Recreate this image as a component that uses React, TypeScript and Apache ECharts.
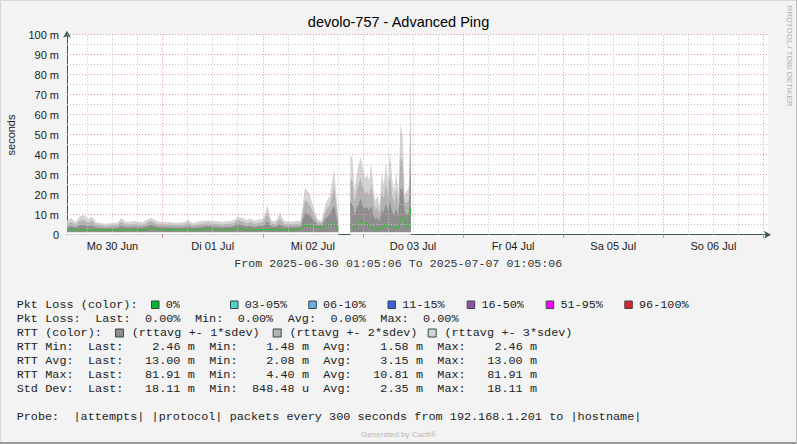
import React, { useEffect, useRef } from 'react';
import * as echarts from 'echarts';

// ---------- texts ----------
const chartTitle = 'devolo-757 - Advanced Ping';
const yAxisName = 'seconds';
const rangeText = 'From 2025-06-30 01:05:06 To 2025-07-07 01:05:06';
const sideText = 'RRDTOOL / TOBI OETIKER';
const footerText = 'Generated by Cacti®';

// ---------- axes (x in hours since 2025-06-30 00:00) ----------
const xStartHour = 1.085; // 01:05:06
const xEndHour = 169.085;
const dayLabels = ['Mo 30 Jun', 'Di 01 Jul', 'Mi 02 Jul', 'Do 03 Jul', 'Fr 04 Jul', 'Sa 05 Jul', 'So 06 Jul'];
const dayNoonHours = [12, 36, 60, 84, 108, 132, 156];
const midnightHours = [24, 48, 72, 96, 120, 144, 168];
const sixHourHours = [6, 12, 18, 30, 36, 42, 54, 60, 66, 78, 84, 90, 102, 108, 114, 126, 132, 138, 150, 156, 162];
const yMajorValues = [10, 20, 30, 40, 50, 60, 70, 80, 90, 100];
const yMinorValues = [5, 15, 25, 35, 45, 55, 65, 75, 85, 95];

// ---------- data (milliseconds) ----------
const seg1StartHour = 1.1;
const seg1StepHours = 1;
const seg1Avg = [
  2.3, 2.4, 2.2, 2.5, 2.3, 2.4, 2.2, 2.3, 2.3, 2.2,
  2.3, 2.3, 2.3, 2.4, 2.3, 2.3, 2.4, 2.3, 2.3, 2.5,
  3.4, 2.9, 2.6, 2.5, 2.4, 2.4, 2.3, 2.3, 2.3, 2.4,
  2.3, 2.3, 2.4, 2.8, 2.9, 2.7, 2.5, 2.4, 2.5, 2.4,
  2.6, 3.4, 2.8, 2.5, 2.6, 2.4, 2.5, 2.6, 2.6, 2.5,
  2.4, 2.6, 2.5, 2.4, 2.4, 2.6, 2.7, 4.8, 4.6, 4.2,
  3.6, 3.6, 4.2, 5.5, 5.3, 2.4,
];
const seg1Sdev = [
  1.6, 2.0, 1.4, 2.2, 2.5, 1.8, 2.3, 1.3, 1.2, 1.1,
  1.1, 1.2, 1.2, 2.0, 1.4, 1.4, 1.5, 1.4, 1.3, 1.6,
  1.7, 1.5, 1.3, 1.3, 1.3, 1.3, 1.2, 1.3, 1.3, 1.7,
  1.2, 1.3, 1.5, 1.4, 1.4, 1.4, 1.4, 1.3, 1.4, 1.5,
  1.6, 1.9, 1.9, 1.6, 1.8, 1.5, 1.7, 1.8, 4.0, 1.5,
  1.5, 2.7, 1.5, 1.4, 1.4, 1.4, 1.4, 6.2, 5.5, 3.3,
  1.4, 1.1, 3.9, 4.7, 9.2, 2.2,
];
const gapHour = 67.6;
const seg2StartHour = 69;
const seg2StepHours = 0.5;
const seg2Avg = [
  4.5, 3.6, 3.5, 4.5, 6.0, 7.2, 5.0, 5.2, 5.8, 4.2,
  3.3, 3.5, 2.9, 2.8, 2.8, 2.9, 4.0, 5.8, 4.2, 4.0,
  3.4, 3.3, 3.5, 3.4, 7.0, 9.0, 8.0, 4.0, 4.2, 13.0,
];
const seg2Sdev = [
  11.8, 11.5, 6.2, 8.5, 9.7, 10.6, 9.3, 7.6, 8.1, 7.6,
  10.9, 6.8, 4.7, 5.7, 3.7, 9.4, 7.0, 10.4, 7.3, 13.0,
  8.2, 6.2, 9.5, 5.5, 16.0, 13.7, 4.0, 6.0, 6.6, 23.0,
];
const rttFloor = 1.2;

// ---------- legend ----------
const lossLabels = ['0%', '03-05%', '06-10%', '11-15%', '16-50%', '51-95%', '96-100%'];
const lossColors = ['#0bb52a', '#4fd3cb', '#6eaae6', '#3e5fe0', '#9a4fa6', '#ff00ff', '#e8202c'];
const lossBoxX = [151, 230, 308.3, 387.5, 466.7, 545.7, 624.3];
const rttLabels = ['(rttavg +- 1*sdev)', '(rttavg +- 2*sdev)', '(rttavg +- 3*sdev)'];
const rttBoxX = [115, 272.7, 427.7];
const bandColors = ['#8e8e8e', '#b3b3b3', '#d4d4d4'];
const legendRows = [
  'Pkt Loss (color):',
  'Pkt Loss:  Last:  0.00%  Min:  0.00%  Avg:  0.00%  Max:  0.00%',
  'RTT (color):',
  'RTT Min:  Last:    2.46 m  Min:    1.48 m  Avg:    1.58 m  Max:    2.46 m',
  'RTT Avg:  Last:   13.00 m  Min:    2.08 m  Avg:    3.15 m  Max:   13.00 m',
  'RTT Max:  Last:   81.91 m  Min:    4.40 m  Avg:   10.81 m  Max:   81.91 m',
  'Std Dev:  Last:   18.11 m  Min:  848.48 u  Avg:    2.35 m  Max:   18.11 m',
];
const probeRow = 'Probe:  |attempts| |protocol| packets every 300 seconds from 192.168.1.201 to |hostname|';

const MONO = 'Liberation Mono, DejaVu Sans Mono, monospace';
const SANS = 'Liberation Sans, Arial, sans-serif';

function monoText(str: string, x0: number, y: number, cw: number, fontSize = 11.8, fill = '#222') {
  const out: any[] = [];
  const re = /\S+/g;
  let m: RegExpExecArray | null;
  while ((m = re.exec(str))) {
    out.push({
      type: 'text',
      x: x0 + m.index * cw,
      y,
      silent: true,
      style: { text: m[0], fontFamily: MONO, fontSize, fill, align: 'left', verticalAlign: 'middle' },
    });
  }
  return out;
}

function buildOption() {
  type P = { t: number; avg: number | null; sd: number | null };
  const points: P[] = [
    ...seg1Avg.map((a, i) => ({ t: seg1StartHour + i * seg1StepHours, avg: a, sd: seg1Sdev[i] })),
    { t: gapHour, avg: null, sd: null },
    ...seg2Avg.map((a, i) => ({ t: seg2StartHour + i * seg2StepHours, avg: a, sd: seg2Sdev[i] })),
  ];

  const series: any[] = [];
  // bands: light (3 sdev) first, dark (1 sdev) last, each filled down from its upper edge
  [3, 2, 1].forEach((k) => {
    series.push({
      type: 'line',
      data: points.map((p) => [p.t, p.avg == null || p.sd == null ? null : p.avg + k * p.sd]),
      symbol: 'none',
      showSymbol: false,
      silent: true,
      connectNulls: false,
      lineStyle: { width: 0, opacity: 0 },
      areaStyle: { color: bandColors[k - 1], opacity: 1, origin: 'start' },
    });
  });
  // the band's lower edge (rtt floor): area below it is white
  series.push({
    type: 'line',
    data: points.map((p) => [p.t, p.avg == null ? null : rttFloor]),
    symbol: 'none',
    showSymbol: false,
    silent: true,
    connectNulls: false,
    lineStyle: { width: 0, opacity: 0 },
    areaStyle: { color: '#ffffff', opacity: 1, origin: 'start' },
  });

  const red = '#e09898';
  const grey = '#c4c4c4';
  const dotted = [1, 2];
  const gridLines: any[] = [
    ...yMinorValues.map((v) => ({ yAxis: v, lineStyle: { color: grey, type: dotted, width: 1 } })),
    ...yMajorValues.map((v) => ({ yAxis: v, lineStyle: { color: red, type: dotted, width: 1 } })),
    ...sixHourHours.map((v) => ({ xAxis: v, lineStyle: { color: grey, type: dotted, width: 1 } })),
    ...midnightHours.map((v) => ({ xAxis: v, lineStyle: { color: red, type: dotted, width: 1 } })),
  ];

  series.push({
    type: 'line',
    data: points.map((p) => [p.t, p.avg]),
    symbol: 'none',
    showSymbol: false,
    silent: true,
    connectNulls: false,
    lineStyle: { color: '#1ec41e', width: 1 },
    z: 4,
    markLine: {
      silent: true,
      symbol: ['none', 'none'],
      label: { show: false },
      animation: false,
      data: gridLines,
    },
  });

  const graphic: any[] = [];
  graphic.push({
    type: 'rect', silent: true,
    shape: { x: 0.5, y: 0.5, width: 796, height: 443 },
    style: { fill: 'none', stroke: '#d6d6d6', lineWidth: 1 },
  });
  graphic.push({
    type: 'line', silent: true,
    shape: { x1: 0, y1: 443, x2: 797, y2: 443 },
    style: { stroke: '#9a9a9a', lineWidth: 2 },
  });
  graphic.push({
    type: 'line', silent: true,
    shape: { x1: 796.5, y1: 0, x2: 796.5, y2: 444 },
    style: { stroke: '#bdbdbd', lineWidth: 1 },
  });
  graphic.push({
    type: 'text', x: 398.5, y: 22, silent: true,
    style: { text: chartTitle, fontFamily: SANS, fontSize: 14.5, fill: '#000', align: 'center', verticalAlign: 'middle' },
  });
  graphic.push({
    type: 'text', x: 11, y: 135, rotation: Math.PI / 2, silent: true,
    style: { text: yAxisName, fontFamily: SANS, fontSize: 11, fill: '#222', align: 'center', verticalAlign: 'middle' },
  });
  graphic.push({
    type: 'text', x: 789.5, y: 56, rotation: -Math.PI / 2, silent: true,
    style: { text: sideText, fontFamily: SANS, fontSize: 8, fill: '#b0b0b0', align: 'center', verticalAlign: 'middle' },
  });
  graphic.push({
    type: 'text', x: 398.5, y: 434, silent: true,
    style: { text: footerText, fontFamily: SANS, fontSize: 8, fill: '#b8b8b8', align: 'center', verticalAlign: 'middle' },
  });
  graphic.push(...monoText(rangeText, 234.3, 263, 6.98, 11.6, '#333'));

  const lx0 = 16.7;
  const cw = 7.13;
  const rowY = (r: number) => 304.5 + r * 14;
  legendRows.forEach((row, r) => graphic.push(...monoText(row, lx0, rowY(r), cw)));
  lossLabels.forEach((lab, i) => {
    graphic.push({
      type: 'rect', silent: true,
      shape: { x: lossBoxX[i] + 0.5, y: rowY(0) - 3.5, width: 7.5, height: 7.5 },
      style: { fill: lossColors[i], stroke: '#2f4a4a', lineWidth: 1 },
    });
    graphic.push(...monoText(lab, lossBoxX[i] + 14.7, rowY(0), cw));
  });
  rttLabels.forEach((lab, i) => {
    graphic.push({
      type: 'rect', silent: true,
      shape: { x: rttBoxX[i] + 0.5, y: rowY(2) - 3.5, width: 8, height: 8 },
      style: { fill: bandColors[i], stroke: '#2f4a4a', lineWidth: 1 },
    });
    graphic.push(...monoText(lab, rttBoxX[i] + 16.7, rowY(2), cw));
  });
  graphic.push(...monoText(probeRow, lx0, 416.5, 7.1));

  return {
    animation: false,
    backgroundColor: '#f3f3f3',
    grid: { left: 67, top: 34.7, width: 701, height: 200, show: true, backgroundColor: '#ffffff', borderWidth: 0 },
    xAxis: {
      type: 'value',
      min: xStartHour,
      max: xEndHour,
      splitLine: { show: false },
      axisLine: {
        show: true,
        symbol: ['none', 'arrow'],
        symbolSize: [6, 7],
        symbolOffset: [0, 3],
        lineStyle: { color: '#3c5a5a', width: 1 },
      },
      axisTick: {
        show: true,
        customValues: midnightHours,
        length: 3,
        lineStyle: { color: '#d08888' },
      },
      axisLabel: {
        customValues: dayNoonHours,
        formatter: (v: number) => dayLabels[Math.round((v - dayNoonHours[0]) / 24)] ?? '',
        fontFamily: SANS,
        fontSize: 11,
        color: '#1a1a1a',
        margin: 6,
      },
    },
    yAxis: {
      type: 'value',
      min: 0,
      max: 100,
      interval: 10,
      splitLine: { show: false },
      axisLine: {
        show: true,
        symbol: ['none', 'arrow'],
        symbolSize: [6, 7],
        symbolOffset: [0, 4],
        lineStyle: { color: '#3c5a5a', width: 1 },
      },
      axisTick: { show: false },
      axisLabel: {
        formatter: (v: number) => (v === 0 ? '0' : v + ' m'),
        fontFamily: SANS,
        fontSize: 11,
        color: '#1a1a1a',
        margin: 8,
      },
    },
    series,
    graphic,
  };
}

export default function App() {
  const ref = useRef<HTMLDivElement>(null);
  useEffect(() => {
    if (!ref.current) return;
    const chart = echarts.init(ref.current, null, { renderer: 'svg' });
    chart.setOption(buildOption() as any);
    return () => chart.dispose();
  }, []);
  return (
    <div
      ref={ref}
      style={{ position: 'fixed', left: 0, top: 0, width: 797, height: 444 }}
    />
  );
}
